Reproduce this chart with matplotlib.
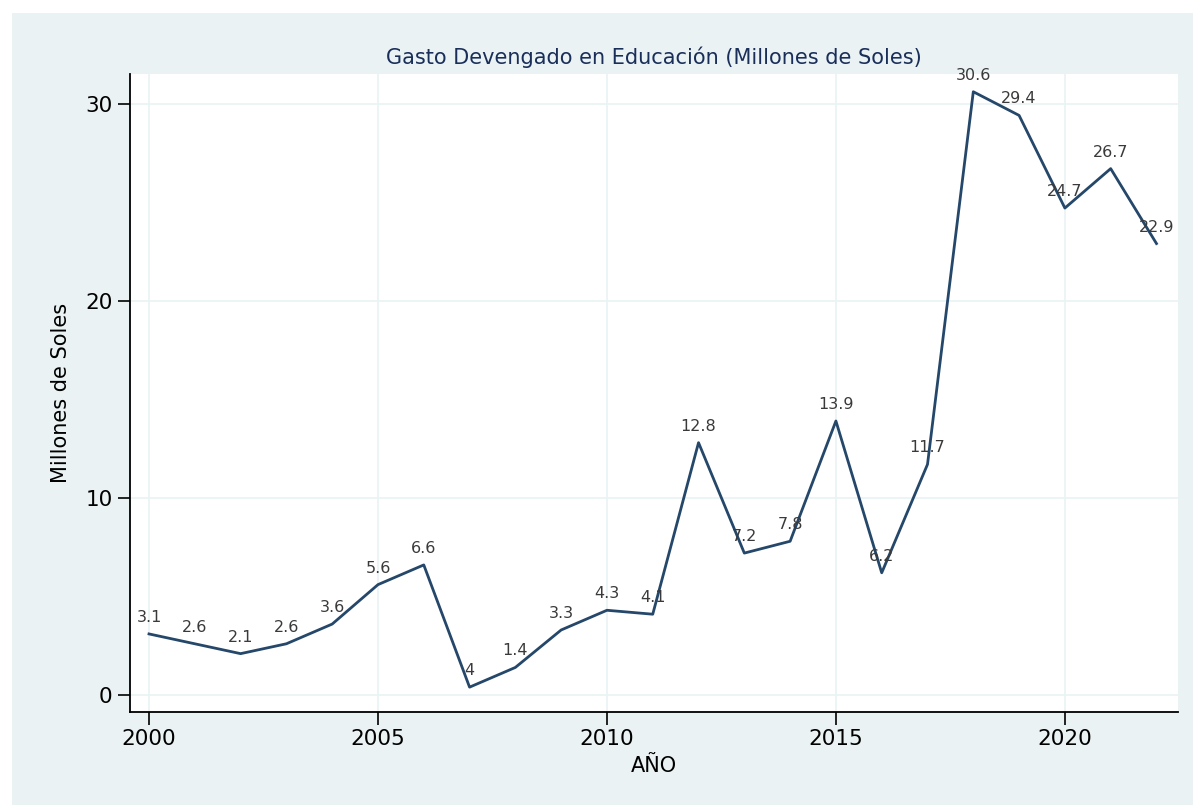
import matplotlib.pyplot as plt
from matplotlib.patches import Rectangle

# datos
anios = list(range(2000, 2023))
gasto = [3.1, 2.6, 2.1, 2.6, 3.6, 5.6, 6.6, 0.4, 1.4, 3.3, 4.3, 4.1,
         12.8, 7.2, 7.8, 13.9, 6.2, 11.7, 30.6, 29.4, 24.7, 26.7, 22.9]
etiquetas = ['3.1', '2.6', '2.1', '2.6', '3.6', '5.6', '6.6', '4', '1.4', '3.3',
             '4.3', '4.1', '12.8', '7.2', '7.8', '13.9', '6.2', '11.7', '30.6',
             '29.4', '24.7', '26.7', '22.9']
xticks = [2000, 2005, 2010, 2015, 2020]
yticks = [0, 10, 20, 30]

fondo = '#eaf2f3'
azul = '#25476a'

W, H = 1193, 805
fig = plt.figure(figsize=(W / 100, H / 100), dpi=100, facecolor='white')
fig.patches.append(Rectangle((12 / W, 0), 1 - 12 / W, 1 - 13 / H,
                             transform=fig.transFigure, facecolor=fondo,
                             edgecolor='none', zorder=-1))

ax = fig.add_axes([130 / W, 1 - 712 / H, (1178 - 130) / W, (712 - 74) / H])
ax.set_facecolor('white')

ax.plot(anios, gasto, color=azul, linewidth=2, zorder=3)
for x, y, t in zip(anios, gasto, etiquetas):
    ax.annotate(t, (x, y), xytext=(0, 6.5), textcoords='offset points',
                ha='center', va='bottom', fontsize=11.5, color='#3a3a3a')

ax.set_xlim(1999.585, 2022.47)
ax.set_ylim(-0.86, 31.5)
ax.set_xticks(xticks)
ax.set_yticks(yticks)
ax.grid(True, color=fondo, linewidth=1.2)
ax.tick_params(axis='both', direction='out', length=9, width=1.2,
               labelsize=15.5, colors='black')
ax.tick_params(axis='x', pad=3)
for s in ['top', 'right']:
    ax.spines[s].set_visible(False)
for s in ['left', 'bottom']:
    ax.spines[s].set_linewidth(1.3)

ax.set_title('Gasto Devengado en Educación (Millones de Soles)',
             fontsize=15, color='#1a2e5a', pad=7)
ax.set_xlabel('AÑO', fontsize=15, labelpad=5)
ax.set_ylabel('Millones de Soles', fontsize=15, labelpad=10)

fig.savefig('out.png', dpi=100, facecolor=fig.get_facecolor())
